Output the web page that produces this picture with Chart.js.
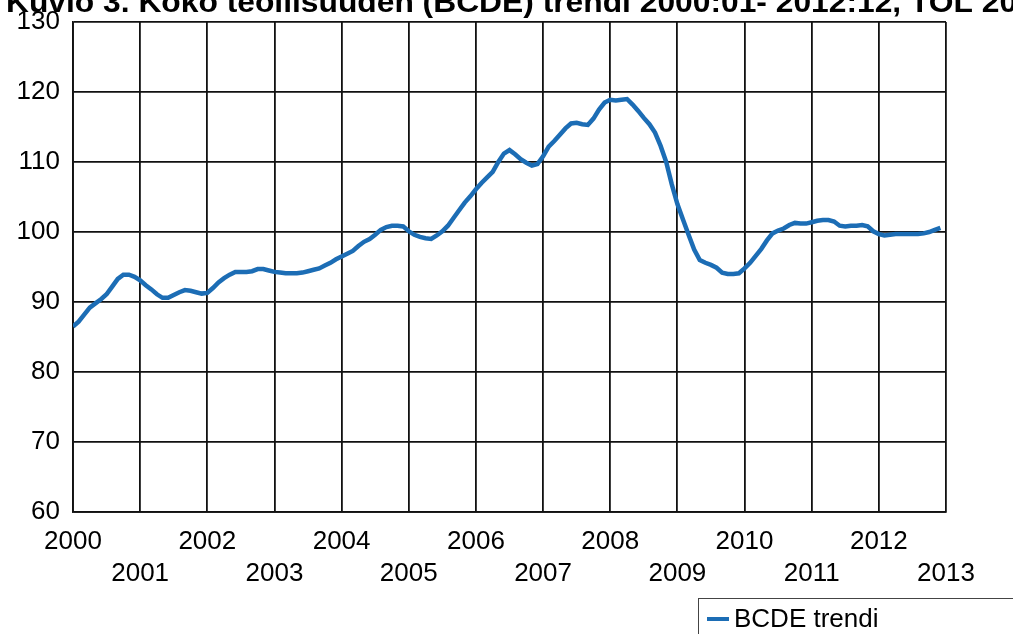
<!DOCTYPE html>
<html>
<head>
<meta charset="utf-8">
<script src="https://cdn.jsdelivr.net/npm/chart.js@4/dist/chart.umd.min.js"></script>
<style>
    html, body { margin: 0; padding: 0; background: #fff; }
    canvas { display: block; }
</style>
</head>
<body>
<canvas id="trend_chart" width="1013" height="634"></canvas>
<script>
// Kuvio: koko teollisuuden (BCDE) trendi, kuukausittain 2000:01 - 2012:12
var titleText = 'Kuvio 3. Koko teollisuuden (BCDE) trendi 2000:01- 2012:12, TOL 2008';
var seriesName = 'BCDE trendi';
var firstYear = 2000;
var yearTicks = [2000, 2001, 2002, 2003, 2004, 2005, 2006, 2007, 2008, 2009, 2010, 2011, 2012, 2013];
var valueTicks = [60, 70, 80, 90, 100, 110, 120, 130];

// one row per year, 12 months each
var trend2000 = [86.5, 87.2, 88.2, 89.2, 89.8, 90.4, 91.1, 92.2, 93.3, 93.9, 93.9, 93.6];
var trend2001 = [93.1, 92.4, 91.8, 91.1, 90.6, 90.6, 91.0, 91.4, 91.7, 91.6, 91.4, 91.2];
var trend2002 = [91.3, 92.0, 92.8, 93.4, 93.9, 94.3, 94.3, 94.3, 94.4, 94.7, 94.7, 94.5];
var trend2003 = [94.3, 94.2, 94.1, 94.1, 94.1, 94.2, 94.4, 94.6, 94.8, 95.2, 95.6, 96.1];
var trend2004 = [96.5, 96.9, 97.3, 98.0, 98.6, 99.0, 99.6, 100.3, 100.7, 100.9, 100.9, 100.8];
var trend2005 = [100.1, 99.6, 99.3, 99.1, 99.0, 99.5, 100.1, 100.9, 102.0, 103.1, 104.2, 105.1];
var trend2006 = [106.1, 107.0, 107.8, 108.6, 110.0, 111.2, 111.7, 111.1, 110.4, 109.9, 109.5, 109.7];
var trend2007 = [110.8, 112.2, 113.0, 113.9, 114.8, 115.5, 115.6, 115.4, 115.3, 116.2, 117.5, 118.5];
var trend2008 = [118.9, 118.8, 118.9, 119.0, 118.2, 117.3, 116.3, 115.4, 114.2, 112.3, 110.0, 106.8];
var trend2009 = [104.0, 101.8, 99.6, 97.5, 96.0, 95.6, 95.3, 94.9, 94.2, 94.0, 94.0, 94.1];
var trend2010 = [94.8, 95.6, 96.6, 97.6, 98.8, 99.8, 100.2, 100.5, 101.0, 101.3, 101.2, 101.2];
var trend2011 = [101.4, 101.6, 101.7, 101.7, 101.5, 100.9, 100.8, 100.9, 100.9, 101.0, 100.8, 100.1];
var trend2012 = [99.7, 99.5, 99.6, 99.7, 99.7, 99.7, 99.7, 99.7, 99.8, 100.0, 100.3, 100.6];

var trendValues = [].concat(trend2000, trend2001, trend2002, trend2003, trend2004, trend2005,
    trend2006, trend2007, trend2008, trend2009, trend2010, trend2011, trend2012);

var lineColor = '#1c6db5';
var fontName = '"Liberation Sans", Arial, sans-serif';

var points = [];
for (var i = 0; i < trendValues.length; i++) {
    points.push({x: firstYear + i / 12, y: trendValues[i]});
}

// title (mostly above the top edge) and the boxed legend in the bottom corner
var decorations = {
    id: 'decorations',
    afterDraw: function (chart) {
        var c = chart.ctx;
        c.save();
        c.fillStyle = '#000';
        c.font = 'bold 30px ' + fontName;
        c.textBaseline = 'alphabetic';
        c.textAlign = 'left';
        // the original title runs wider than the font; stretch it so "TOL" starts near x=910
        var head = titleText.slice(0, titleText.indexOf('TOL'));
        var sx = (910 - 6) / c.measureText(head).width;
        c.translate(6, 12);
        c.scale(sx, 1);
        c.fillText(titleText, 0, 0);
        c.restore();

        c.save();
        c.strokeStyle = '#444';
        c.lineWidth = 1;
        c.strokeRect(698.5, 598.5, 400, 100);
        c.strokeStyle = lineColor;
        c.lineWidth = 4;
        c.beginPath();
        c.moveTo(707, 619);
        c.lineTo(729, 619);
        c.stroke();
        c.fillStyle = '#000';
        c.font = '26px ' + fontName;
        c.textBaseline = 'middle';
        c.fillText(seriesName, 734, 620);
        c.restore();
    }
};

var chart = new Chart('trend_chart', {
    type: 'line',
    data: {
        datasets: [{
            label: seriesName,
            data: points,
            borderColor: lineColor,
            backgroundColor: lineColor,
            borderWidth: 4.5,
            pointRadius: 0,
            tension: 0
        }]
    },
    options: {
        responsive: false,
        animation: false,
        layout: {padding: {left: 0, right: 67, top: 22, bottom: 0}},
        plugins: {
            legend: {display: false},
            title: {display: false},
            tooltip: {enabled: false}
        },
        scales: {
            x: {
                type: 'linear',
                min: yearTicks[0],
                max: yearTicks[yearTicks.length - 1],
                afterBuildTicks: function (axis) {
                    axis.ticks = yearTicks.map(function (v) { return {value: v}; });
                },
                afterFit: function (axis) { axis.height = 122; },
                grid: {color: '#111', lineWidth: 1.8, drawTicks: false},
                border: {color: '#111', width: 1.8},
                ticks: {
                    autoSkip: false,
                    maxRotation: 0,
                    padding: 14,
                    color: '#000',
                    font: {family: fontName, size: 26, lineHeight: 1.22},
                    callback: function (v) {
                        var y = Math.round(v);
                        return y % 2 === 0 ? [String(y), ''] : ['', String(y)];
                    }
                }
            },
            y: {
                min: valueTicks[0],
                max: valueTicks[valueTicks.length - 1],
                afterBuildTicks: function (axis) {
                    axis.ticks = valueTicks.map(function (v) { return {value: v}; });
                },
                afterFit: function (axis) {
                    axis.width = 73;
                    axis.paddingTop = 0;
                    axis.paddingBottom = 0;
                },
                grid: {color: '#111', lineWidth: 1.8, drawTicks: false},
                border: {color: '#111', width: 1.8},
                ticks: {
                    padding: 13,
                    color: '#000',
                    font: {family: fontName, size: 26}
                }
            }
        }
    },
    plugins: [decorations]
});
</script>
</body>
</html>
